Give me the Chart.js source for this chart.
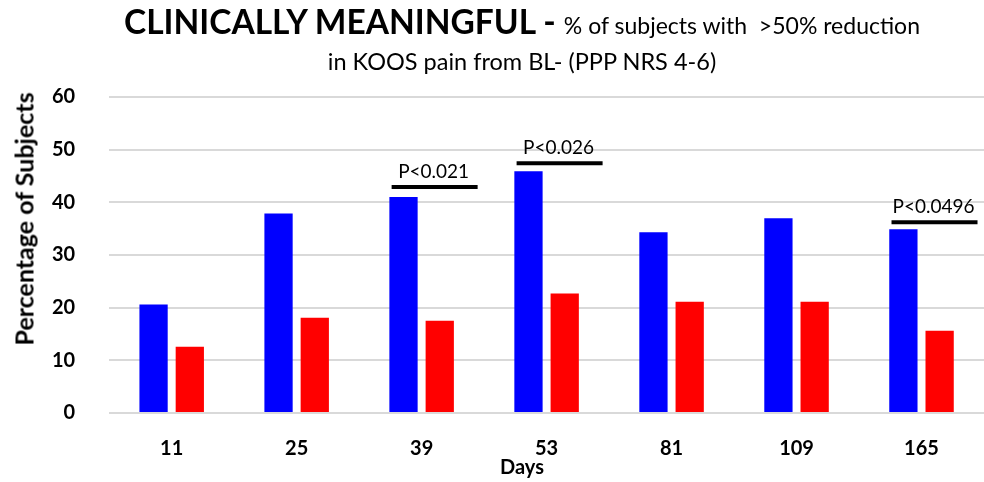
<!DOCTYPE html>
<html>
<head>
<meta charset="utf-8">
<script src="https://cdn.jsdelivr.net/npm/chart.js@4"></script>
<style>
  body { margin: 0; background: #fff; font-family: Lato, "Open Sans", sans-serif; }
  #wrap { position: relative; width: 984px; height: 482px; }
  #title { position: absolute; left: 0; top: 5px; width: 1044px; text-align: center; color: #000; line-height: 1; white-space: nowrap; }
  #title .big { font-weight: bold; font-size: 33.5px; }
  #title .small { font-size: 23px; }
  #sub { position: absolute; left: 0; top: 50px; width: 1044px; text-align: center; font-size: 23.5px; line-height: 1; }
  #xtitle { position: absolute; left: 0; top: 456px; width: 1044px; text-align: center; font-size: 20px; font-weight: bold; line-height: 1; }
  #ytitle { position: absolute; left: 24px; top: 219px; transform: translate(-50%, -50%) rotate(-90deg); font-size: 25px; font-weight: bold; line-height: 1; white-space: nowrap; }
</style>
</head>
<body>
<div id="wrap">
  <canvas id="chart" width="984" height="482"></canvas>
  <div id="title"><span class="big">CLINICALLY MEANINGFUL - </span><span class="small">% of subjects with &nbsp;&gt;50% reduction</span></div>
  <div id="sub">in KOOS pain from BL- (PPP NRS 4-6)</div>
  <div id="xtitle">Days</div>
  <div id="ytitle">Percentage of Subjects</div>
</div>
<script>
const days = ["11", "25", "39", "53", "81", "109", "165"];
const treated = [20.6, 37.9, 41.0, 45.9, 34.3, 37.0, 34.9];
const control = [12.6, 18.1, 17.5, 22.7, 21.1, 21.1, 15.6];
const pLabels = ["P<0.021", "P<0.026", "P<0.0496"];
const pDays = ["39", "53", "165"];
const pLevels = [42.9, 47.4, 36.2];

const pValues = {
    id: 'pValues',
    afterDatasetsDraw(chart) {
        const ctx = chart.ctx;
        const x = chart.scales.x, y = chart.scales.y;
        ctx.save();
        ctx.strokeStyle = '#000';
        ctx.lineWidth = 4;
        ctx.fillStyle = '#000';
        ctx.font = '19px Lato, "Open Sans", sans-serif';
        ctx.textAlign = 'center';
        ctx.textBaseline = 'bottom';
        pDays.forEach((d, i) => {
            const cx = x.getPixelForValue(days.indexOf(d));
            const py = y.getPixelForValue(pLevels[i]);
            ctx.beginPath();
            ctx.moveTo(cx - 30, py);
            ctx.lineTo(cx + 56, py);
            ctx.stroke();
            ctx.fillText(pLabels[i], cx + 12, py - 6);
        });
        ctx.restore();
    }
};

new Chart(document.getElementById('chart'), {
    type: 'bar',
    data: {
        labels: days,
        datasets: [
            { data: treated, backgroundColor: '#0000ff' },
            { data: control, backgroundColor: '#ff0000' }
        ]
    },
    options: {
        responsive: false,
        animation: false,
        layout: { padding: { top: 97, right: 0, left: 18, bottom: 5 } },
        datasets: { bar: { categoryPercentage: 0.58, barPercentage: 0.78 } },
        plugins: {
            legend: { display: false },
            tooltip: { enabled: false }
        },
        scales: {
            x: {
                grid: { display: false },
                border: { display: false },
                ticks: { color: '#000', font: { size: 20, weight: 'bold', family: 'Lato' }, padding: 16 },
                title: { display: false }
            },
            y: {
                min: 0,
                max: 60,
                ticks: { stepSize: 10, color: '#000', font: { size: 20, weight: 'bold', family: 'Lato' }, padding: 34 },
                grid: { color: '#d9d9d9', lineWidth: 2, drawTicks: false },
                border: { display: false },
                title: { display: false }
            }
        }
    },
    plugins: [pValues]
});
</script>
</body>
</html>
